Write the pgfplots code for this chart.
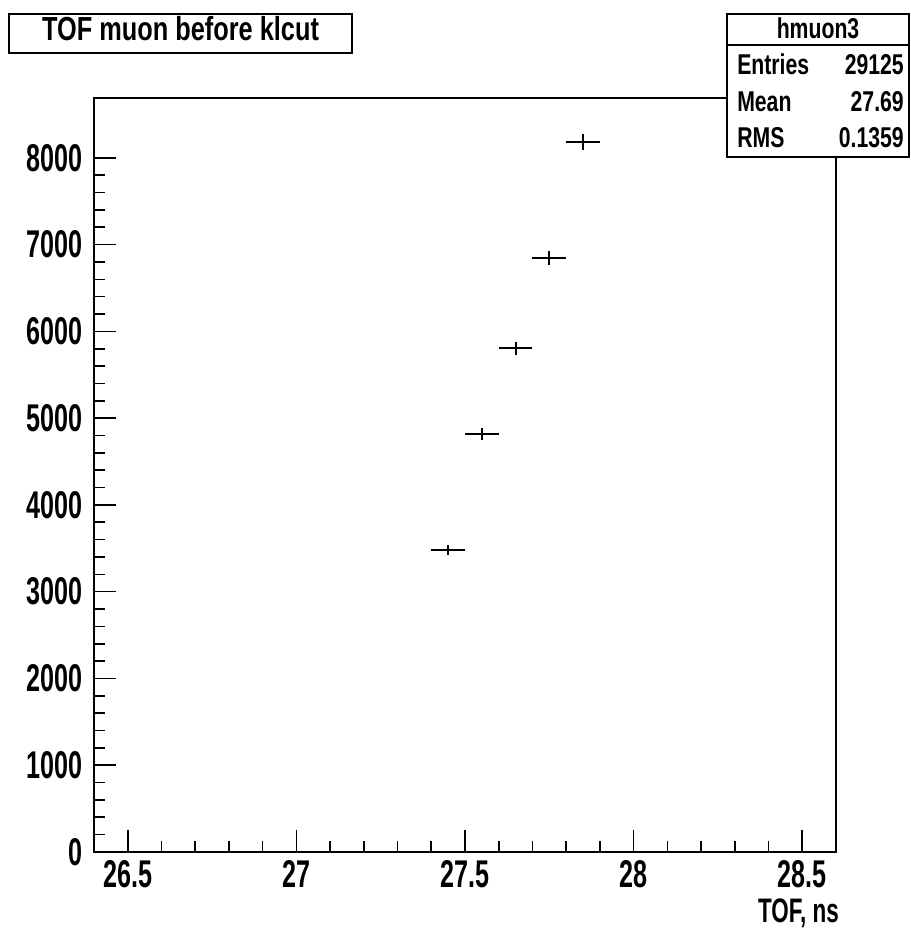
\documentclass[border=0pt]{standalone}
\usepackage{pgfplots}
\pgfplotsset{compat=1.18}
\usepackage{fontspec}
\setmainfont{Liberation Sans}
\newfontfamily\tickfont{Liberation Sans}[FakeStretch=0.65]
\newfontfamily\titlefont{Liberation Sans}[FakeStretch=0.76]
\newfontfamily\statfont{Liberation Sans}[FakeStretch=0.74]
\newfontfamily\labfont{Liberation Sans}[FakeStretch=0.66]

% TOF histogram (bin centre, counts, half bin width, sqrt(N))
\pgfplotstableread{
x     y     ex    ey
27.45 3478  0.05  59
27.55 4818  0.05  69
27.65 5807  0.05  76
27.75 6847  0.05  83
27.85 8184  0.05  90
}\tofdata

\begin{document}
\begin{tikzpicture}
\path[use as bounding box] (0pt,0pt) rectangle (682.5pt,698.25pt);
\begin{axis}[
  at={(70.5pt,59.25pt)}, anchor=south west,
  scale only axis, width=556.5pt, height=565.5pt,
  xmin=26.4, xmax=28.6, ymin=0, ymax=8690,
  xtick={26.5,27,27.5,28,28.5},
  ytick={0,1000,...,8000},
  minor x tick num=4, minor y tick num=4,
  tick pos=left, tick align=inside,
  major tick length=16.5pt, minor tick length=8.25pt,
  tick style={line width=1.2pt, black},
  axis line style={line width=1.5pt},
  scaled y ticks=false,
  /pgf/number format/assume math mode=true,
  /pgf/number format/1000 sep={},
  tick label style={font=\tickfont\bfseries\fontsize{29}{32}\selectfont, inner sep=0pt},
  xticklabel style={anchor=north, yshift=-6.5pt},
  yticklabel style={anchor=east, xshift=-8.25pt},
  xlabel={TOF, ns},
  xlabel style={at={(axis description cs:1,0)}, anchor=base east, inner sep=0pt,
    yshift=-52.5pt, xshift=2.25pt, font=\labfont\bfseries\fontsize{25.5}{28}\selectfont},
]
\addplot[draw=none, mark=none,
  error bars/.cd, x dir=both, x explicit, y dir=both, y explicit, error mark=none,
  error bar style={draw=black, line width=1.4pt}]
  table[x=x, y=y, x error=ex, y error=ey] {\tofdata};
\end{axis}
% title box
\draw[line width=1.5pt, fill=white] (6.75pt,658.5pt) rectangle (264pt,687.75pt);
\node[anchor=base, inner sep=0pt, font=\titlefont\bfseries\fontsize{25}{28}\selectfont]
  at (135.4pt,667.5pt) {TOF muon before klcut};
% stats box
\draw[line width=1.5pt, fill=white] (545.25pt,580.5pt) rectangle (681.75pt,687.75pt);
\draw[line width=1.5pt] (545.25pt,664.5pt) -- (681.75pt,664.5pt);
\begin{scope}[every node/.style={inner sep=0pt, font=\statfont\bfseries\fontsize{21.5}{24}\selectfont}]
\node[anchor=base] at (613.5pt,669pt) {hmuon3};
\node[anchor=base west] at (552.75pt,642pt) {Entries};
\node[anchor=base east] at (678pt,642pt) {29125};
\node[anchor=base west] at (552.75pt,614.25pt) {Mean};
\node[anchor=base east] at (678pt,614.25pt) {27.69};
\node[anchor=base west] at (552.75pt,587.25pt) {RMS};
\node[anchor=base east] at (678pt,587.25pt) {0.1359};
\end{scope}
\end{tikzpicture}
\end{document}
